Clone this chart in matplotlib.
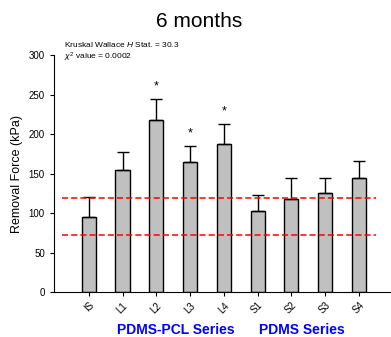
import matplotlib
matplotlib.use("Agg")
import matplotlib.pyplot as plt
import numpy as np

plt.rcParams['font.family'] = ['Liberation Sans', 'DejaVu Sans']
plt.rcParams['mathtext.fontset'] = 'custom'
plt.rcParams['mathtext.rm'] = 'Liberation Sans'
plt.rcParams['mathtext.it'] = 'Liberation Sans:italic'

# data
samples = ["IS", "L1", "L2", "L3", "L4", "S1", "S2", "S3", "S4"]
force = [95, 154, 218, 165, 188, 102, 118, 126, 145]
err = [25, 23, 27, 20, 25, 21, 26, 19, 21]
signif = ["", "", "*", "*", "*", "", "", "", ""]
ref_lines = [119.5, 72]

fig = plt.figure(figsize=(3.91, 3.37), dpi=100)
ax = fig.add_axes([0.138, 0.1335, 0.862, 0.703])

x = np.arange(len(samples))
ax.bar(x, force, width=0.42, color="#c0c0c0", edgecolor="black", linewidth=1.0, zorder=2)
ax.errorbar(x, force, yerr=[np.zeros(len(err)), err], fmt="none", ecolor="black",
            elinewidth=1.0, capsize=4, capthick=1.0, zorder=3)
for xi, f, e, s in zip(x, force, err, signif):
    if s:
        ax.text(xi, f + e + 8, s, ha="center", va="bottom", fontsize=9)

for y in ref_lines:
    ax.plot([-0.78, 8.5], [y, y], ls="--", color="red", lw=1.1, dashes=(4, 2), zorder=4)

ax.set_xlim(-1.03, 8.95)
ax.set_ylim(0, 300)
ax.set_yticks(range(0, 301, 50))
ax.set_xticks(x)
ax.set_xticklabels(samples, rotation=45, ha="right", rotation_mode="anchor", fontsize=7)
ax.tick_params(axis="y", labelsize=7, length=3, direction="out")
ax.tick_params(axis="x", length=3, direction="out", pad=3)
for sp in ["top", "right"]:
    ax.spines[sp].set_visible(False)
ax.set_ylabel("Removal Force (kPa)", fontsize=9)

fig.text(0.51, 0.935, "6 months", ha="center", va="center", fontsize=15)
ax.text(0.03, 1.045, "Kruskal Wallace $\\it{H}$ Stat. = 30.3", transform=ax.transAxes,
        fontsize=6, va="center")
ax.text(0.03, 0.99, "$\\chi^2$ value = 0.0002", transform=ax.transAxes,
        fontsize=6, va="center")

fig.text(0.45, 0.01, "PDMS-PCL Series", color="blue", fontweight="bold", fontsize=10, ha="center")
fig.text(0.772, 0.01, "PDMS Series", color="blue", fontweight="bold", fontsize=10, ha="center")

fig.savefig("out.png", dpi=100)
